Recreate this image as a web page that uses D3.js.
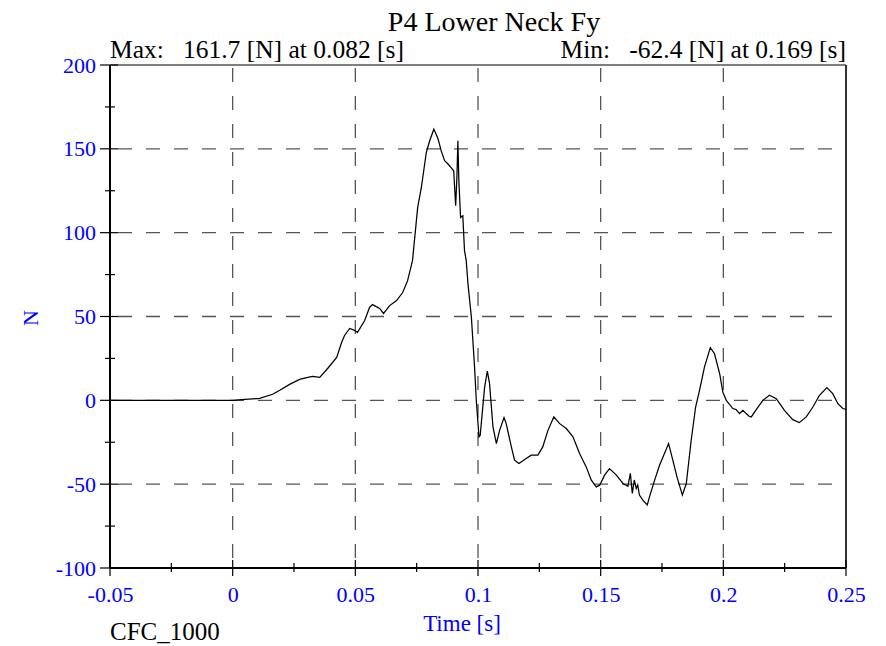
<!DOCTYPE html>
<html><head><meta charset="utf-8">
<script src="https://cdn.jsdelivr.net/npm/d3@7"></script>
<style>body{margin:0;background:#fff}svg{display:block}text{font-family:"Liberation Serif","Times New Roman",serif}</style>
</head><body><svg id="c" width="886" height="646"></svg>
<script>
const title = "P4 Lower Neck Fy";
const maxLabel = "Max:   161.7 [N] at 0.082 [s]";
const minLabel = "Min:   -62.4 [N] at 0.169 [s]";
const xTicks = [-0.05, 0, 0.05, 0.1, 0.15, 0.2, 0.25];
const xTickLabels = ["-0.05","0","0.05","0.1","0.15","0.2","0.25"];
const yTicks = [-100,-50,0,50,100,150,200];
const yTickLabels = ["-100","-50","0","50","100","150","200"];
const time = [-0.05,0.000,0.005,0.011,0.0163,0.0192,0.0232,0.0273,0.0306,0.0326,0.0355,0.0387,0.0424,0.0444,0.0456,0.0477,0.0497,0.0509,0.0538,0.0558,0.0570,0.0599,0.0615,0.0640,0.0668,0.0693,0.0713,0.0733,0.0754,0.0769,0.0789,0.0803,0.082,0.0827,0.0837,0.0850,0.0864,0.0877,0.0891,0.0901,0.0909,0.0914,0.0918,0.0922,0.0929,0.0938,0.0945,0.0952,0.0959,0.0973,0.0986,0.0993,0.1004,0.1009,0.1027,0.1038,0.1047,0.1061,0.1075,0.1088,0.1106,0.1115,0.1136,0.1149,0.1167,0.1190,0.1217,0.1244,0.1264,0.1285,0.1309,0.1333,0.1360,0.1387,0.1414,0.1441,0.1462,0.1482,0.1496,0.1516,0.1536,0.1564,0.1591,0.1611,0.1621,0.1629,0.1637,0.1645,0.1651,0.1658,0.1672,0.169,0.1699,0.1720,0.1740,0.1760,0.1777,0.1794,0.1811,0.1833,0.1849,0.1869,0.1887,0.1903,0.1923,0.1947,0.1964,0.1985,0.1998,0.2012,0.2039,0.2052,0.2066,0.2080,0.2093,0.2105,0.2114,0.2134,0.2161,0.2188,0.2216,0.2249,0.2283,0.2310,0.2338,0.2365,0.2392,0.2422,0.2446,0.2467,0.2487,0.25];
const force = [0,0,0.5,1.2,3.6,6.0,9.5,12.5,13.7,14.3,13.7,19.0,25.6,34.5,38.7,42.9,41.7,40.5,47.6,55.4,57.1,54.8,51.8,56.5,59.5,64.3,71.4,83.3,114.9,126.8,147.6,154.8,161.7,159.5,156,148.8,142.9,141.1,138.7,136.9,116.1,132.9,154.8,131,109.1,110.1,89.3,83.3,69.6,49.6,19.8,0,-21.8,-20.8,7.9,17.4,10.1,-15.9,-25.8,-17.9,-10.3,-13.9,-27.8,-35.7,-37.7,-35.3,-32.7,-32.7,-27.8,-17.9,-9.9,-13.9,-16.8,-21.8,-31.7,-39.7,-47.6,-51.6,-50.6,-44.6,-40.7,-44.6,-49.6,-51.2,-43.6,-55.5,-47.5,-52.6,-50.5,-56.5,-59.5,-62.4,-57.6,-47.6,-38.7,-31.7,-25.8,-35.7,-45.7,-56.5,-49.6,-23.8,-4.0,6.0,19.8,31.4,27.8,15.9,4.9,0,-4.9,-5.5,-7.9,-6.0,-7.9,-9.5,-9.9,-5.5,0,3.0,1.0,-6.0,-11.5,-13.3,-9.9,-4.0,3.0,7.6,4.0,-2.0,-4.9,-5.4];

const L=110,R=846,T=65,B=568;
const svg=d3.select("#c");
const x=d3.scaleLinear().domain([-0.05,0.25]).range([L,R]);
const y=d3.scaleLinear().domain([-100,200]).range([B,T]);
const blue="#0000ff";

// grid
const gx=[0,0.05,0.1,0.15,0.2], gy=[-50,0,50,100,150];
svg.append("g").selectAll("line").data(gx).join("line")
 .attr("x1",d=>x(d)).attr("x2",d=>x(d)).attr("y1",T).attr("y2",B)
 .attr("stroke","#555").attr("stroke-width",1.3).attr("stroke-dasharray","14,14").attr("stroke-dashoffset",-3);
svg.append("g").selectAll("line").data(gy).join("line")
 .attr("x1",L).attr("x2",R).attr("y1",d=>y(d)).attr("y2",d=>y(d))
 .attr("stroke","#555").attr("stroke-width",1.3).attr("stroke-dasharray","14,14").attr("stroke-dashoffset",-8);

// frame
svg.append("line").attr("x1",L).attr("x2",R).attr("y1",T).attr("y2",T).attr("stroke","#000").attr("stroke-width",1.2);
svg.append("line").attr("x1",R).attr("x2",R).attr("y1",T).attr("y2",B).attr("stroke","#000").attr("stroke-width",1.6);

// axes
const yAxis=d3.axisLeft(y).tickValues(yTicks).tickSize(0).tickFormat((d,i)=>yTickLabels[i]);
const ya=svg.append("g").attr("transform",`translate(${L},0)`).call(yAxis);
ya.select(".domain").remove();
ya.selectAll("text").attr("x",-14).attr("fill",blue).style("font-size","22px").style("font-family","Liberation Serif");
const yMinor=d3.range(-75,200,50);
svg.append("g").selectAll("line").data(yTicks).join("line").attr("x1",L-10).attr("x2",L+8).attr("y1",d=>y(d)).attr("y2",d=>y(d)).attr("stroke","#000").attr("stroke-width",1.2);
svg.append("g").selectAll("line").data(yMinor).join("line").attr("x1",L-5).attr("x2",L+5).attr("y1",d=>y(d)).attr("y2",d=>y(d)).attr("stroke","#000").attr("stroke-width",1.2);
svg.append("line").attr("x1",L).attr("x2",R===0?0:L).attr("y1",T).attr("y2",B).attr("stroke","#000").attr("stroke-width",2);

const xAxis=d3.axisBottom(x).tickValues(xTicks).tickSize(0).tickFormat((d,i)=>xTickLabels[i]);
const xa=svg.append("g").attr("transform",`translate(0,${B})`).call(xAxis);
xa.select(".domain").remove();
xa.selectAll("text").attr("y",18).attr("fill",blue).style("font-size","22px").style("font-family","Liberation Serif");
const xMinor=d3.range(-0.025,0.25,0.05);
svg.append("g").selectAll("line").data(xTicks).join("line").attr("x1",d=>x(d)).attr("x2",d=>x(d)).attr("y1",B-8).attr("y2",B+8).attr("stroke","#000").attr("stroke-width",1.2);
svg.append("g").selectAll("line").data(xMinor).join("line").attr("x1",d=>x(d)).attr("x2",d=>x(d)).attr("y1",B-5).attr("y2",B+4).attr("stroke","#000").attr("stroke-width",1.2);
svg.append("line").attr("x1",L).attr("x2",R).attr("y1",B).attr("y2",B).attr("stroke","#000").attr("stroke-width",2);

// curve
const pts=time.map((t,i)=>[t,force[i]]);
svg.append("path").datum(pts).attr("fill","none").attr("stroke","#000").attr("stroke-width",1.25)
 .attr("d",d3.line().x(d=>x(d[0])).y(d=>y(d[1])));

// texts
svg.append("text").attr("x",494).attr("y",31).attr("text-anchor","middle").style("font-size","28px").text(title);
svg.append("text").attr("x",L).attr("y",58).style("font-size","25.5px").style("white-space","pre").text(maxLabel);
svg.append("text").attr("x",R).attr("y",58).attr("text-anchor","end").style("font-size","25.5px").style("white-space","pre").text(minLabel);
svg.append("text").attr("x",462).attr("y",631).attr("text-anchor","middle").attr("fill",blue).style("font-size","23px").text("Time [s]");
svg.append("text").attr("transform","translate(38,318) rotate(-90)").attr("text-anchor","middle").attr("fill",blue).style("font-size","22px").text("N");
svg.append("text").attr("x",L).attr("y",640).style("font-size","25px").text("CFC_1000");
</script></body></html>
